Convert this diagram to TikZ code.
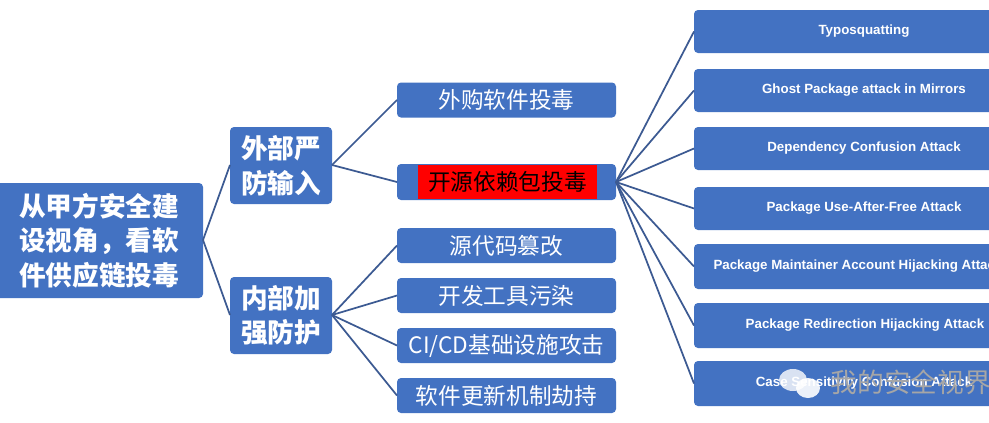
\documentclass[tikz,border=0pt]{standalone}
\usepackage{fontspec}
\setmainfont{Liberation Sans}
\newfontfamily\cjk{Noto Sans CJK SC}
\begin{document}
\begin{tikzpicture}[x=0.75pt,y=-0.75pt,
 bx/.style={fill=boxblue,rounded corners=3pt,inner sep=0pt},
 ln/.style={draw=lineblue,line width=1.3pt},
 mt/.style={text=white,font=\cjk\fontsize{17}{20}\selectfont},
 rt/.style={text=white,font=\bfseries\fontsize{10}{12}\selectfont}]
\definecolor{boxblue}{HTML}{4372C2}
\definecolor{lineblue}{HTML}{3C5A92}
\useasboundingbox (0,0) rectangle (989,422);
\clip (0,0) rectangle (989,422);
\fill[white] (0,0) rectangle (989,422);
% root
\path[bx] (-5,183) rectangle (203,298);
\node[text=white,font=\cjk\bfseries\fontsize{20}{26}\selectfont,align=left] (root) at (99,240.5) {从甲方安全建\\设视角，看软\\件供应链投毒};
\coordinate (rootR) at (203,240);
% level 1
\path[bx] (230,127) rectangle (332,204);
\node[text=white,font=\cjk\bfseries\fontsize{20}{26}\selectfont,align=left] (ext) at (281,165.5) {外部严\\防输入};
\path[bx] (230,277) rectangle (332,354);
\node[text=white,font=\cjk\bfseries\fontsize{20}{26}\selectfont,align=left] (int) at (281,315.5) {内部加\\强防护};
\coordinate (extL) at (230,165); \coordinate (extR) at (332,165);
\coordinate (intL) at (230,315); \coordinate (intR) at (332,315);
\draw[ln] (rootR) -- (extL); \draw[ln] (rootR) -- (intL);
% mid
\foreach \n/\t/\y in {m1/外购软件投毒/100,m3/源代码篡改/245.5,m4/开发工具污染/295.5,m5/{CI/CD基础设施攻击}/345.5,m6/软件更新机制劫持/395.5}{
 \path[bx] (397,\y-17.5) rectangle (616,\y+17.5);
 \node[mt] (\n) at (506.5,\y) {\t};
 \coordinate (\n L) at (397,\y);
}
\path[bx] (397,164) rectangle (616,200);
\fill[red] (418,165) rectangle (597,199);
\node[mt,text=black] (m2) at (507.5,182) {开源依赖包投毒};
\coordinate (m2L) at (397,182); \coordinate (m2R) at (616,182);
\draw[ln] (extR) -- (m1L); \draw[ln] (extR) -- (m2L);
\foreach \n in {m3,m4,m5,m6} \draw[ln] (intR) -- (\n L);
% right
\foreach \n/\t/\a/\b/\c in {r1/Typosquatting/10/53/864,r2/Ghost Package attack in Mirrors/69/112/864,r3/Dependency Confusion Attack/127/170/864,r4/Package Use-After-Free Attack/187/230/864,r5/Package Maintainer Account Hijacking Attack/244/289/858,r6/Package Redirection Hijacking Attack/303/348/865,r7/Case Sensitivity Confusion Attack/361/406/864}{
 \path[bx] (694,\a) rectangle (1000,\b);
 \node[rt] (\n) at (\c,{(\a+\b)/2}) {\t};
 \coordinate (\n L) at (694,{(\a+\b)/2});
 \draw[ln] (m2R) -- (\n L);
}
% watermark
\node[text=gray!70,font=\cjk\fontsize{20}{24}\selectfont,anchor=west] (wm) at (826,382) {我的安全视界};
\fill[white,opacity=0.8] (793,380) ellipse (14 and 11);
\fill[white,opacity=0.9] (808,388) ellipse (12 and 10);
\end{tikzpicture}
\end{document}
